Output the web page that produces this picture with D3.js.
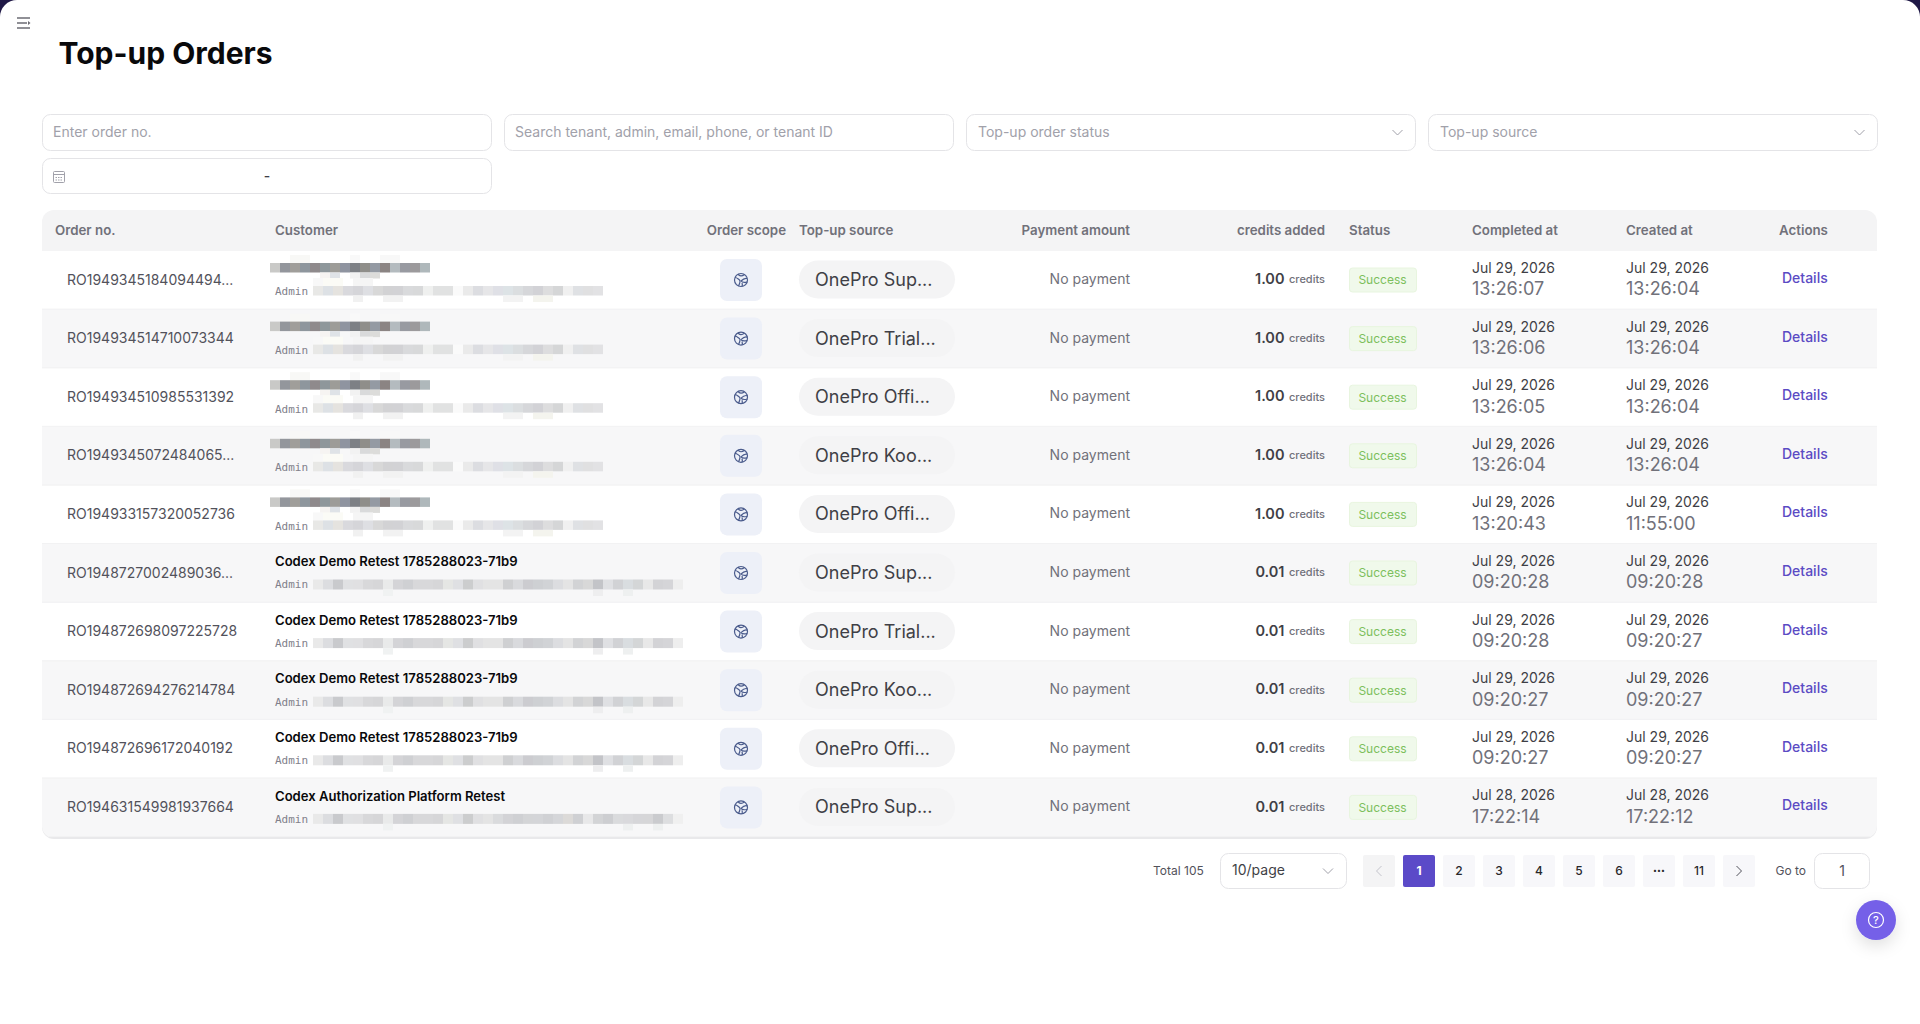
<!DOCTYPE html>
<html>
<head>
<meta charset="utf-8">
<title>Top-up Orders</title>
<script src="https://cdn.jsdelivr.net/npm/d3@7"></script>
<style>
html, body { margin: 0; padding: 0; background: #fff; overflow: hidden; }
svg { display: block; }
text { font-family: Inter, "Noto Sans", sans-serif; }
</style>
</head>
<body>
<script>
var w = 1920;
var h = 1024;

var headers = ['Order no.', 'Customer', 'Order scope', 'Top-up source', 'Payment amount', 'credits added', 'Status', 'Completed at', 'Created at', 'Actions'];

var orderNos = ['RO1949345184094494...', 'RO194934514710073344', 'RO194934510985531392', 'RO1949345072484065...', 'RO194933157320052736', 'RO1948727002489036...', 'RO194872698097225728', 'RO194872694276214784', 'RO194872696172040192', 'RO194631549981937664'];
var customers = ['', '', '', '', '', 'Codex Demo Retest 1785288023-71b9', 'Codex Demo Retest 1785288023-71b9', 'Codex Demo Retest 1785288023-71b9', 'Codex Demo Retest 1785288023-71b9', 'Codex Authorization Platform Retest'];
var sources = ['OnePro Sup...', 'OnePro Trial...', 'OnePro Offi...', 'OnePro Koo...', 'OnePro Offi...', 'OnePro Sup...', 'OnePro Trial...', 'OnePro Koo...', 'OnePro Offi...', 'OnePro Sup...'];
var credits = ['1.00', '1.00', '1.00', '1.00', '1.00', '0.01', '0.01', '0.01', '0.01', '0.01'];
var completedDates = ['Jul 29, 2026', 'Jul 29, 2026', 'Jul 29, 2026', 'Jul 29, 2026', 'Jul 29, 2026', 'Jul 29, 2026', 'Jul 29, 2026', 'Jul 29, 2026', 'Jul 29, 2026', 'Jul 28, 2026'];
var completedTimes = ['13:26:07', '13:26:06', '13:26:05', '13:26:04', '13:20:43', '09:20:28', '09:20:28', '09:20:27', '09:20:27', '17:22:14'];
var createdDates = completedDates;
var createdTimes = ['13:26:04', '13:26:04', '13:26:04', '13:26:04', '11:55:00', '09:20:28', '09:20:27', '09:20:27', '09:20:27', '17:22:12'];

var pages = ['<', '1', '2', '3', '4', '5', '6', '...', '11', '>'];

// redacted strips, tile colours
var nameTiles = ['c9c9c7', '93969c', 'a09e9a', '8e969d', '8f8a8c', '8e979b', '9d9c98', '8f94a0', '7d8085', '8f8e8a', '949aa3', '8b8483', 'b4bbbf', '989aa1', '9c9a9c', 'afb8bb'];
var nameTilesUnder = ['', '', '', '', '', 'f6f4f2', 'dfe3e7', '', 'f2f2f2', 'd9dadb', 'dcdcda', '', '', '', '', ''];
var nameTilesOver = ['', '', 'f8f8f6', 'f8f8f6', '', '', '', '', 'f9f9f9', '', '', 'f8f8f8', 'f8f8f8', '', '', ''];
var mailTilesA = ['e8e8e6', 'dde1e5', 'e5e3df', 'd9d9dd', 'd5d5d9', 'dedfe3', 'd8d8d8', 'd2d2d4', 'd2d2d5', 'd9dadc', 'd8d9da', 'eff0ef', 'e1e2e2', 'e1e2e2', 'fafafa', 'eaeaea', 'dcdde1', 'e6e6e8', 'dfe0e6', 'dde3e6', 'dbdee0', 'd6d7da', 'd2d2d6', 'ddddde', 'd5d6d7', 'f0f0f0', 'dfe1e4', 'e0e0e1', 'e2e2e4'];
var mailTilesAOver = ['f8f8f8', 'fbfbf6', 'fbfbf6', '', 'f5f5f5', 'f5f5f5'];
var mailTilesAUnder = ['', '', '', '', 'f1f1f1', '', '', 'f2f2f2', 'f2f2f2', '', '', '', '', '', '', '', '', '', '', 'f3f3f3', 'f3f3f3', '', 'f4f4ee', 'f4f4ee'];
var mailTilesB = ['e9e9e9', 'dcdde0', 'c9cacd', 'e0e1e3', 'e0e0e2', 'd8d8da', 'd6d6d8', 'e9eaea', 'd4d4d7', 'cfd0d3', 'd8d8da', 'd8d8da', 'd6d6d8', 'e5e6e4', 'dfe0e3', 'cccdce', 'e0e0e2', 'e4e4e4', 'e4e4e4', 'cfd0d2', 'd9dadd', 'ccccd0', 'ced0d3', 'd1d3d6', 'dcdde0', 'e4e4e4', 'd2d3d5', 'd8d8d8', 'c3c4c8', 'dfe0e3', 'd1d2d5', 'd9dde0', 'd4d6d7', 'e8e8e8', 'd3d3d6', 'd5d5d8', 'eeeeee'];
var mailTilesBUnder = ['', '', '', '', '', '', '', 'f0f2f2', '', '', '', '', '', '', '', '', '', '', '', '', '', '', '', '', '', '', '', '', 'eeeeef', '', '', 'eef0f0'];
var mailTilesC = ['e9e9e9', 'dcdde0', 'c9cacd', 'e0e1e3', 'e0e0e2', 'd8d8da', 'd6d6d8', 'e9eaea', 'd4d4d7', 'cfd0d3', 'd8d8da', 'd8d8da', 'd6d6d8', 'e5e6e4', 'dfe0e3', 'cccdce', 'e0e0e2', 'e4e4e4', 'dadbdd', 'd3d3d6', 'cfd0d3', 'd4d5d7', 'd4d5d8', 'd0d1d4', 'd5d6d9', 'dcdad8', 'cfd0d3', 'e8e8e9', 'd3d4d6', 'cdced1', 'dadbdd', 'd9d9dc', 'd6d6d9', 'd6d6d8', 'cacbce', 'dddee0', 'f0f0f0'];
var mailTilesCUnder = ['', '', '', '', '', '', '', 'f0f2f2', '', '', '', '', '', '', '', '', '', '', '', '', '', '', '', '', '', '', '', '', '', '', '', 'eef0f0', '', '', 'eef0f0'];

var svg = d3.select('body').append('svg').attr('width', w).attr('height', h);

// dark shell behind the rounded page
svg.append('rect').attr('width', w).attr('height', 40).attr('fill', '#1f1846');
svg.append('rect').attr('width', w).attr('height', h + 40).attr('rx', 17).attr('fill', '#fff');

var defs = svg.append('defs');
var shadow = defs.append('filter').attr('id', 'fab').attr('x', '-60%').attr('y', '-60%').attr('width', '220%').attr('height', '220%');
shadow.append('feDropShadow').attr('dx', 0).attr('dy', 6).attr('stdDeviation', 8).attr('flood-color', '#000').attr('flood-opacity', 0.12);
defs.append('clipPath').attr('id', 'tableClip').append('rect').attr('x', 42).attr('y', 210).attr('width', 1835).attr('height', 628).attr('rx', 12);

function label(g, str, x, y, size, color, weight, anchor) {
    return g.append('text').text(str).attr('x', x).attr('y', y).attr('dy', '0.36em')
        .attr('font-size', size).attr('fill', color)
        .attr('font-weight', weight || 400).attr('text-anchor', anchor || 'start');
}

function chevronDown(g, x, y) {
    g.append('path').attr('d', 'M' + (x - 5) + ',' + (y - 2.5) + 'L' + x + ',' + (y + 2.5) + 'L' + (x + 5) + ',' + (y - 2.5))
        .attr('fill', 'none').attr('stroke', '#a1a1aa').attr('stroke-width', 1);
}

// menu toggle
var menu = svg.append('g').attr('stroke', '#6b6b73').attr('stroke-width', 1.5);
menu.append('line').attr('x1', 17).attr('x2', 30).attr('y1', 18).attr('y2', 18);
menu.append('line').attr('x1', 17).attr('x2', 27).attr('y1', 23).attr('y2', 23);
menu.append('line').attr('x1', 17).attr('x2', 30).attr('y1', 28).attr('y2', 28);
menu.append('path').attr('d', 'M28,21L30.5,23L28,25').attr('fill', '#6b6b73').attr('stroke', 'none');

label(svg, 'Top-up Orders', 58.5, 53, 30, '#09090b', 700);

// filters
var filterBoxes = [
    { x: 42.5, y: 114.5, w: 449, h: 36, text: 'Enter order no.' },
    { x: 504.5, y: 114.5, w: 449, h: 36, text: 'Search tenant, admin, email, phone, or tenant ID' },
    { x: 966.5, y: 114.5, w: 449, h: 36, text: 'Top-up order status', arrow: true },
    { x: 1428.5, y: 114.5, w: 449, h: 36, text: 'Top-up source', arrow: true },
    { x: 42.5, y: 158.5, w: 449, h: 35, text: '' }
];
var filters = svg.append('g');
filterBoxes.forEach(function (b) {
    filters.append('rect').attr('x', b.x).attr('y', b.y).attr('width', b.w).attr('height', b.h).attr('rx', 8)
        .attr('fill', '#fff').attr('stroke', '#e4e4e7');
    label(filters, b.text, b.x + (b.arrow ? 11.5 : 10.5), b.y + b.h / 2 - 0.5, 14, '#a1a1aa');
    if (b.arrow) chevronDown(filters, b.x + b.w - 18, b.y + 18);
});
var cal = filters.append('g').attr('stroke', '#a1a1aa').attr('fill', 'none');
cal.append('rect').attr('x', 53.5).attr('y', 171.5).attr('width', 11).attr('height', 11).attr('rx', 1);
cal.append('line').attr('x1', 53.5).attr('x2', 64.5).attr('y1', 174.5).attr('y2', 174.5);
cal.append('line').attr('x1', 55.5).attr('x2', 63).attr('y1', 177.5).attr('y2', 177.5).attr('stroke-dasharray', '1.5 1');
cal.append('line').attr('x1', 55.5).attr('x2', 63).attr('y1', 180).attr('y2', 180).attr('stroke-dasharray', '1.5 1');
label(filters, '-', 267, 175.5, 14, '#3f3f46', 500, 'middle');

// table
var rowY = d3.scaleBand().domain(d3.range(orderNos.length)).range([251, 837]);
var colX = d3.scaleOrdinal().domain(headers).range([55, 275, 786, 799, 1130, 1325, 1349, 1472, 1626, 1779]);

var table = svg.append('g');
table.append('rect').attr('x', 42).attr('y', 212).attr('width', 1835).attr('height', 627).attr('rx', 12).attr('fill', '#e9e9eb');
var inner = table.append('g').attr('clip-path', 'url(#tableClip)');
inner.append('rect').attr('x', 42).attr('y', 210).attr('width', 1835).attr('height', 41).attr('fill', '#f4f4f5');

inner.selectAll('rect.row').data(orderNos).enter().append('rect').attr('class', 'row')
    .attr('x', 42).attr('width', 1835)
    .attr('y', function (d, i) { return rowY(i); })
    .attr('height', rowY.bandwidth())
    .attr('fill', function (d, i) { return i % 2 ? '#f7f7f8' : '#fff'; });
inner.selectAll('line.sep').data(orderNos).enter().append('line').attr('class', 'sep')
    .attr('x1', 42).attr('x2', 1877)
    .attr('y1', function (d, i) { return rowY(i) + rowY.bandwidth() - 0.5; })
    .attr('y2', function (d, i) { return rowY(i) + rowY.bandwidth() - 0.5; })
    .attr('stroke', '#f2f2f3');

var headerG = table.append('g');
headers.forEach(function (t) {
    var anchor = (t === 'Payment amount' || t === 'credits added' || t === 'Order scope') ? 'end' : 'start';
    label(headerG, t, colX(t), 230, 13.3, '#71717a', 600, anchor);
});

function tiles(g, list, x0, y, tw, th) {
    var x = d3.scaleBand().domain(d3.range(list.length)).range([x0, x0 + tw * list.length]);
    var cells = list.map(function (c, i) { return { c: c, i: i }; }).filter(function (d) { return d.c !== ''; });
    g.selectAll(null).data(cells).enter().append('rect')
        .attr('x', function (d) { return x(d.i); })
        .attr('y', y).attr('width', tw).attr('height', th)
        .attr('fill', function (d) { return '#' + d.c; });
}

orderNos.forEach(function (no, i) {
    var top = rowY(i);
    var g = table.append('g');

    label(g, no, 67, top + 28.5, 14, '#52525b');

    if (customers[i]) {
        label(g, customers[i], 275, top + 17.5, 13.1, '#09090b', 600);
        tiles(g, i === 9 ? mailTilesC : mailTilesB, 313, top + 35.5, 10, 10);
        tiles(g, i === 9 ? mailTilesCUnder : mailTilesBUnder, 313, top + 45.5, 10, 6.5);
    } else {
        tiles(g, nameTilesOver, 270, top + 4, 10, 8);
        tiles(g, nameTiles, 270, top + 12, 10, 9.5);
        tiles(g, nameTilesUnder, 270, top + 21.5, 10, 6);
        tiles(g, mailTilesAOver, 313, top + 27, 10, 8);
        tiles(g, mailTilesA, 313, top + 35, 10, 9.5);
        tiles(g, mailTilesAUnder, 313, top + 44.5, 10, 6.5);
    }
    label(g, 'Admin', 275, top + 40.5, 11, '#80808a').style('font-family', '"DejaVu Sans Mono", monospace');

    // order scope badge
    g.append('rect').attr('x', 720).attr('y', top + 8).attr('width', 42).attr('height', 42).attr('rx', 7).attr('fill', '#edf0f8');
    var icon = g.append('g').attr('transform', 'translate(741,' + (top + 29) + ')').attr('fill', 'none').attr('stroke', '#4a5b8c').attr('stroke-width', 1.2);
    icon.append('circle').attr('r', 6.5);
    icon.append('path').attr('d', 'M-6,-2.5C-4,-2.5 -3,-1 -1.5,0C-0.5,1 -1.5,4 -2.5,6');
    icon.append('path').attr('d', 'M-3,-5.8C-1.5,-3.5 1,-3.5 3.5,-5.5M6.2,-1.5C3.5,-2.5 2,-1 0,1C1.5,3 3.5,2.5 6.2,2M1,3C1.5,4.5 1.5,5.5 1,6.4');

    // source pill
    g.append('rect').attr('x', 799).attr('y', top + 9.5).attr('width', 156).attr('height', 38).attr('rx', 19).attr('fill', '#f4f4f5');
    label(g, sources[i], 815, top + 28.5, 18, '#3f3f46');

    label(g, 'No payment', 1130, top + 28, 14, '#71717a', 400, 'end');

    label(g, 'credits', 1325, top + 28.5, 11, '#71717a', 500, 'end');
    label(g, credits[i], 1284.5, top + 28, 14.5, '#3f3f46', 600, 'end');

    g.append('rect').attr('x', 1349.5).attr('y', top + 17).attr('width', 67).attr('height', 24).attr('rx', 3).attr('fill', '#f0f9eb').attr('stroke', '#e8f5df');
    label(g, 'Success', 1382.5, top + 29, 12, '#7cbf5c', 400, 'middle');

    label(g, completedDates[i], 1472, top + 17, 14, '#3f3f46');
    label(g, completedTimes[i], 1472, top + 38, 18, '#71717a');
    label(g, createdDates[i], 1626, top + 17, 14, '#3f3f46');
    label(g, createdTimes[i], 1626, top + 38, 18, '#71717a');

    label(g, 'Details', 1782, top + 27, 14, '#5b4bc4', 500);
});

// pagination
var pager = svg.append('g');
var pageX = d3.scaleBand().domain(pages).range([1363, 1755]).paddingInner(0.2).paddingOuter(0);
label(pager, 'Total 105', 1153, 870.5, 12, '#52525b');
pager.append('rect').attr('x', 1220.5).attr('y', 853.5).attr('width', 126).attr('height', 35).attr('rx', 8).attr('fill', '#fff').attr('stroke', '#e4e4e7');
label(pager, '10/page', 1232, 870, 14, '#3f3f46');
chevronDown(pager, 1328, 871);

pager.selectAll('rect.page').data(pages).enter().append('rect').attr('class', 'page')
    .attr('x', function (d) { return pageX(d); })
    .attr('y', 855).attr('width', pageX.bandwidth()).attr('height', 32).attr('rx', 2)
    .attr('fill', function (d) { return d === '1' ? '#5b4ac8' : (d === '<' ? '#f4f4f5' : '#f7f7fa'); });
pages.forEach(function (p) {
    var cx = pageX(p) + pageX.bandwidth() / 2;
    if (p === '<' || p === '>') {
        var dir = p === '<' ? 1 : -1;
        pager.append('path').attr('d', 'M' + (cx + dir * 2.5) + ',866L' + (cx - dir * 2.5) + ',871L' + (cx + dir * 2.5) + ',876')
            .attr('fill', 'none').attr('stroke', p === '<' ? '#c4c4cc' : '#52525b');
    } else if (p === '...') {
        pager.append('text').text('\u2022\u2022\u2022').attr('x', cx).attr('y', 871).attr('dy', '0.34em')
            .attr('text-anchor', 'middle').attr('font-size', 7).attr('fill', '#27272a');
    } else {
        label(pager, p, cx, 870.5, 12, p === '1' ? '#fff' : '#27272a', p === '1' ? 700 : 500, 'middle');
    }
});

label(pager, 'Go to', 1775.5, 871, 12, '#52525b');
pager.append('rect').attr('x', 1814.5).attr('y', 853.5).attr('width', 55).attr('height', 35).attr('rx', 8).attr('fill', '#fff').attr('stroke', '#e4e4e7');
label(pager, '1', 1842, 871, 14, '#52525b', 400, 'middle');

// help button
var help = svg.append('g').attr('transform', 'translate(1876,920)');
help.append('circle').attr('r', 20).attr('fill', '#7461e8').attr('filter', 'url(#fab)');
help.append('circle').attr('r', 7.5).attr('fill', 'none').attr('stroke', '#fff').attr('stroke-width', 1.2);
label(help, '?', 0, 0, 11, '#fff', 500, 'middle');
</script>
</body>
</html>
